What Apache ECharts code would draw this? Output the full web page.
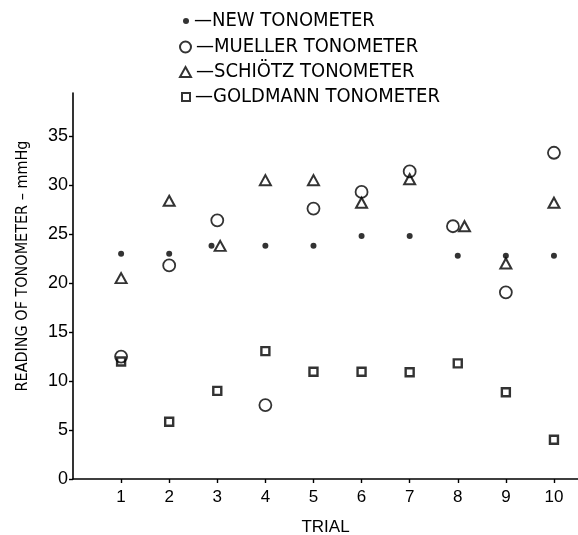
<!DOCTYPE html>
<html><head><meta charset="utf-8">
<script src="https://cdn.jsdelivr.net/npm/echarts@6/dist/echarts.min.js"></script>
<style>html,body{margin:0;padding:0;background:#fff}#c{width:578px;height:535px}</style>
</head><body><div id="c"></div>
<script>
// Data
const trials = [1, 2, 3, 4, 5, 6, 7, 8, 9, 10];
const yTicks = [0, 5, 10, 15, 20, 25, 30, 35];
const seriesNames = ['NEW TONOMETER', 'MUELLER TONOMETER', 'SCHIÖTZ TONOMETER', 'GOLDMANN TONOMETER'];
// x positions (some marks are drawn slightly beside the trial tick in the original)
const newX = [1, 2, 2.88, 4, 5, 6, 7, 8, 9, 10];
const newY = [23, 23, 23.8, 23.8, 23.8, 24.8, 24.8, 22.8, 22.8, 22.8];
const muellerX = [1, 2, 3, 4, 5, 6, 7, 7.9, 9, 10];
const muellerY = [12.5, 21.8, 26.4, 7.55, 27.6, 29.3, 31.4, 25.8, 19.05, 33.3];
const schiotzX = [1, 2, 3.06, 4, 5, 6, 7, 8.14, 9, 10];
const schiotzY = [20.5, 28.4, 23.8, 30.5, 30.5, 28.2, 30.6, 25.8, 22.0, 28.2];
const goldmannX = [1, 2, 3, 4, 5, 6, 7, 8, 9, 10];
const goldmannY = [12.0, 5.85, 9.0, 13.05, 10.95, 10.95, 10.9, 11.8, 8.85, 4.0];
const xTitle = 'TRIAL';
const yTitle = 'READING OF TONOMETER – mmHg';

const pair = (xs, ys) => xs.map((x, i) => [x, ys[i]]);
const INK = '#000';
const FONT = '"Liberation Sans", Arial, sans-serif';
const NARROW = '"Liberation Sans Narrow", "DejaVu Sans Condensed", sans-serif';

const legendItem = (name, left, top, w, h) => ({
  data: [name], orient: 'vertical', left: left, top: top, padding: 0,
  itemWidth: w, itemHeight: h,
  formatter: n => '—' + n,
  textStyle: {color: INK, fontSize: 20, fontFamily: NARROW}
});

const chart = echarts.init(document.getElementById('c'), null, {renderer: 'canvas'});
chart.setOption({
  backgroundColor: '#fff',
  animation: false,
  grid: {left: 73, right: 0, top: 93, bottom: 56, containLabel: false, outerBoundsMode: 'none'},
  legend: [
    legendItem(seriesNames[0], 183, 11, 6, 6),
    legendItem(seriesNames[1], 179, 37, 11, 11),
    legendItem(seriesNames[2], 179, 62, 11, 10),
    legendItem(seriesNames[3], 181, 87, 8, 8)
  ],
  xAxis: {
    type: 'value', min: 0, max: 10.5,
    name: xTitle, nameLocation: 'middle', nameGap: 40,
    nameTextStyle: {color: INK, fontSize: 17, fontFamily: FONT},
    axisLine: {show: true, onZero: false, lineStyle: {color: INK, width: 1.6}},
    axisTick: {show: true, customValues: trials, length: 4, lineStyle: {color: INK, width: 1.4}},
    axisLabel: {show: true, customValues: trials, margin: 10, color: INK, fontSize: 17, fontFamily: FONT},
    splitLine: {show: false}
  },
  yAxis: {
    type: 'value', min: 0, max: 39.4,
    axisLine: {show: true, onZero: false, lineStyle: {color: INK, width: 1.6}},
    axisTick: {show: true, customValues: yTicks, length: 4, lineStyle: {color: INK, width: 1.4}},
    axisLabel: {show: true, customValues: yTicks, margin: 5, color: INK, fontSize: 18, fontFamily: FONT},
    splitLine: {show: false}
  },
  graphic: [{
    type: 'text', x: 23, y: 266, rotation: Math.PI / 2,
    style: {text: yTitle, fill: INK, fontSize: 16, fontFamily: NARROW, align: 'center', verticalAlign: 'middle'}
  }],
  series: [
    {name: seriesNames[0], type: 'scatter', data: pair(newX, newY), symbol: 'circle', symbolSize: 6,
     itemStyle: {color: INK}},
    {name: seriesNames[1], type: 'scatter', data: pair(muellerX, muellerY), symbol: 'circle', symbolSize: 12,
     itemStyle: {color: 'rgba(0,0,0,0)', borderColor: INK, borderWidth: 1.8}},
    {name: seriesNames[2], type: 'scatter', data: pair(schiotzX, schiotzY), symbol: 'triangle', symbolSize: [11, 10],
     itemStyle: {color: 'rgba(0,0,0,0)', borderColor: INK, borderWidth: 2}},
    {name: seriesNames[3], type: 'scatter', data: pair(goldmannX, goldmannY), symbol: 'rect', symbolSize: 8,
     itemStyle: {color: 'rgba(0,0,0,0)', borderColor: INK, borderWidth: 2.4}}
  ]
});
</script></body></html>
